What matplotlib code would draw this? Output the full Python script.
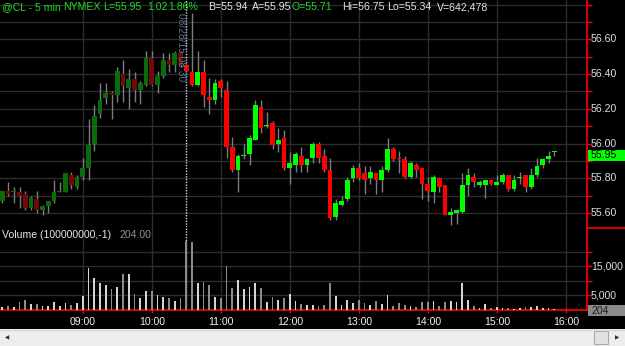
import matplotlib
matplotlib.use('Agg')
import matplotlib.pyplot as plt
from matplotlib.patches import Rectangle
from matplotlib.lines import Line2D
from matplotlib.transforms import blended_transform_factory

# ---------------- data ----------------
opens = [55.67, 55.73, 55.72, 55.72, 55.71, 55.63, 55.68, 55.62, 55.64, 55.67,
         55.72, 55.72, 55.82, 55.75, 55.81, 55.86, 56.00, 56.17, 56.26, 56.29,
         56.28, 56.40, 56.32, 56.37, 56.31, 56.34, 56.49, 56.34, 56.39, 56.48,
         56.45, 56.52, 56.45, 56.41, 56.34, 56.41, 56.27, 56.25, 56.36, 56.31,
         55.98, 55.85, 55.93, 55.94, 56.02, 56.21, 56.10, 56.12, 56.00, 56.03,
         55.86, 55.88, 55.93, 55.88, 55.92, 56.00, 55.93, 55.85, 55.58, 55.65,
         55.68, 55.80, 55.86, 55.83, 55.80, 55.83, 55.79, 55.85, 55.97, 55.92,
         55.91, 55.81, 55.88, 55.86, 55.77, 55.72, 55.80, 55.76, 55.59, 55.60,
         55.61, 55.76, 55.81, 55.76, 55.76, 55.79, 55.76, 55.78, 55.82, 55.74,
         55.80, 55.82, 55.75, 55.82, 55.88, 55.91, 55.95]
highs = [55.73, 55.78, 55.75, 55.75, 55.73, 55.70, 55.73, 55.65, 55.67, 55.79,
         55.78, 55.83, 55.84, 55.82, 55.92, 56.14, 56.22, 56.35, 56.35, 56.30,
         56.44, 56.48, 56.43, 56.41, 56.36, 56.53, 56.53, 56.42, 56.52, 56.52,
         56.53, 56.53, 56.46, 56.75, 56.53, 56.48, 56.38, 56.37, 56.37, 56.36,
         56.04, 55.94, 56.00, 56.05, 56.25, 56.25, 56.18, 56.13, 56.09, 56.08,
         55.95, 55.95, 55.98, 55.92, 56.01, 56.01, 55.97, 55.92, 55.68, 55.70,
         55.81, 55.88, 55.89, 55.87, 55.87, 55.83, 55.87, 56.03, 55.98, 55.96,
         55.93, 55.90, 55.89, 55.86, 55.81, 55.82, 55.81, 55.76, 55.63, 55.62,
         55.83, 55.86, 55.83, 55.79, 55.79, 55.79, 55.82, 55.83, 55.82, 55.82,
         55.84, 55.82, 55.86, 55.92, 55.92, 55.96, 55.96]
lows = [55.66, 55.70, 55.66, 55.63, 55.62, 55.62, 55.60, 55.59, 55.60, 55.66,
        55.72, 55.72, 55.74, 55.74, 55.79, 55.79, 55.96, 56.15, 56.23, 56.14,
        56.24, 56.24, 56.20, 56.24, 56.23, 56.33, 56.33, 56.29, 56.38, 56.41,
        56.41, 56.44, 56.41, 56.33, 56.33, 56.21, 56.17, 56.23, 56.27, 55.92,
        55.84, 55.72, 55.91, 55.88, 56.02, 56.06, 56.09, 55.97, 55.95, 55.85,
        55.77, 55.84, 55.84, 55.84, 55.89, 55.89, 55.84, 55.56, 55.56, 55.64,
        55.67, 55.78, 55.79, 55.71, 55.77, 55.71, 55.72, 55.84, 55.90, 55.83,
        55.80, 55.80, 55.81, 55.68, 55.67, 55.66, 55.72, 55.59, 55.53, 55.54,
        55.60, 55.70, 55.75, 55.75, 55.69, 55.76, 55.76, 55.77, 55.73, 55.73,
        55.77, 55.72, 55.74, 55.81, 55.86, 55.89, 55.93]
closes = [55.73, 55.71, 55.73, 55.70, 55.63, 55.69, 55.62, 55.64, 55.67, 55.72,
          55.72, 55.83, 55.76, 55.81, 55.86, 55.99, 56.16, 56.25, 56.29, 56.28,
          56.42, 56.33, 56.37, 56.31, 56.35, 56.49, 56.34, 56.39, 56.48, 56.45,
          56.52, 56.45, 56.42, 56.34, 56.41, 56.28, 56.25, 56.35, 56.32, 55.98,
          55.85, 55.93, 55.93, 56.03, 56.22, 56.09, 56.11, 55.99, 56.02, 55.86,
          55.89, 55.94, 55.88, 55.91, 56.00, 55.92, 55.85, 55.57, 55.66, 55.67,
          55.79, 55.86, 55.80, 55.79, 55.84, 55.79, 55.85, 55.97, 55.91, 55.91,
          55.81, 55.89, 55.85, 55.77, 55.73, 55.81, 55.75, 55.59, 55.61, 55.62,
          55.76, 55.82, 55.78, 55.78, 55.79, 55.77, 55.78, 55.82, 55.74, 55.79,
          55.81, 55.75, 55.82, 55.87, 55.91, 55.93, 55.95]
volumes = [900, 1400, 1000, 2800, 3400, 2100, 2100, 1400, 1400, 2800,
           1400, 2400, 1800, 2400, 4800, 14600, 11000, 9400, 8600, 7200,
           8000, 12400, 12400, 5500, 4100, 6400, 6400, 5100, 4500, 4100,
           3100, 4100, 23800, 23500, 9400, 9700, 8600, 4500, 4100, 15300,
           7600, 10300, 7100, 7800, 9300, 7600, 2900, 4500, 3300, 4100,
           5500, 3000, 2100, 1800, 1700, 1500, 1600, 9300, 4800, 1700,
           3400, 2400, 3400, 2400, 1700, 3100, 2100, 5100, 1400, 2400,
           1700, 1400, 900, 2800, 2800, 3100, 1400, 2800, 3100, 2800,
           9300, 3400, 1400, 600, 2100, 600, 900, 600, 600, 500,
           600, 900, 900, 1300, 600, 600, 204]
session_start = 32          # index of the 08:30 session-open bar
hour_bars = [14, 26, 38, 50, 62, 74, 86, 98]
hour_labels = ["09:00", "10:00", "11:00", "12:00", "13:00", "14:00", "15:00", "16:00"]
price_labels = [55.60, 55.80, 56.00, 56.20, 56.40, 56.60]
vol_labels = [5000, 15000]
last_price = 55.95
last_volume = 204

# ---------------- figure ----------------
W, H = 625, 346
fig = plt.figure(figsize=(W / 100, H / 100), dpi=100, facecolor='black')
FONT = 'Liberation Sans'
FS = 7.6


def fx(x):
    return x / W


def fy(y):
    return 1 - y / H


ax = fig.add_axes([0, fy(227), 587 / W, 227 / H])
axv = fig.add_axes([0, fy(310), 587 / W, 83 / H])
GRID = '#2c2c2c'
RED = '#ff0000'

for a in (ax, axv):
    a.set_facecolor('black')
    a.set_xlim(-0.4, 101.69)
    for s in ('top', 'left', 'bottom', 'right'):
        a.spines[s].set_visible(False)
    a.set_xticks(hour_bars)
    a.set_xticklabels([])
    a.tick_params(axis='x', length=0)
    a.grid(True, color=GRID, linewidth=1.0)
    a.set_axisbelow(True)

ax.set_ylim(55.521, 56.826)
ax.set_yticks([55.6 + 0.1 * k for k in range(13)])
ax.yaxis.tick_right()
ax.tick_params(axis='y', colors=RED, length=3.5, width=1.0, labelright=False)
ax.spines['right'].set_visible(True)
ax.spines['right'].set_color(RED)
ax.spines['right'].set_linewidth(1.2)

axv.set_ylim(0, 28620)
axv.set_yticks([5000, 10000, 15000, 20000])
axv.yaxis.tick_right()
axv.tick_params(axis='y', colors=RED, length=3.5, width=1.0, labelright=False)
axv.tick_params(axis='x', colors=RED, length=4, width=1.0, direction='inout')
for s in ('right', 'bottom'):
    axv.spines[s].set_visible(True)
    axv.spines[s].set_color(RED)
    axv.spines[s].set_linewidth(1.2)

# session separator
for a in (ax, axv):
    a.axvline(session_start, color='#c4d6ee', linestyle=(0, (1, 1)), linewidth=1.0, zorder=1)

# candles
n = len(opens)
xs = list(range(n))
bottoms, heights, colors = [], [], []
for i in xs:
    o, c = opens[i], closes[i]
    up = c >= o
    if i < session_start:
        col = '#0b6a0b' if up else '#720a0a'
    else:
        col = '#00ff00' if up else '#ff0000'
    bottoms.append(min(o, c))
    heights.append(max(abs(c - o), 0.006))
    colors.append(col)
ax.vlines(xs, lows, highs, color='#7c7c7c', linewidth=1.0, zorder=2)
ax.bar(xs, heights, bottom=bottoms, width=0.8, color=colors, linewidth=0, zorder=3)

vcolors = ['#d4d4d4' if closes[i] >= opens[i] else '#8c8c8c' for i in xs]
axv.bar(xs, volumes, width=0.3, color=vcolors, linewidth=0, zorder=3)

# ---------------- texts ----------------
hdr = [(2, "@CL - 5 min", '#22d822'), (63, "NYMEX", '#22d822'), (103, "L=55.95", '#22d822'),
       (147, "1.02", '#22d822'), (168, "1.86%", '#22d822'), (208, "B=55.94", '#dfe7f2'),
       (252, "A=55.95", '#dfe7f2'), (292, "O=55.71", '#22d822'), (342, "Hi=56.75", '#e4e4e4'),
       (387, "Lo=55.34", '#e4e4e4'), (437, "V=642,478", '#e4e4e4')]
for x, t, c in hdr:
    fig.text(fx(x), fy(7.5), t, color=c, fontsize=FS, family=FONT, ha='left', va='center')

fig.text(fx(181), fy(13), "08/28/15 08:30", color='#5d6f88', fontsize=7.3, family=FONT,
         rotation=270, ha='center', va='top')

tr_p = blended_transform_factory(fig.transFigure, ax.transData)
for p in price_labels:
    ax.text(fx(591), p, f"{p:.2f}", transform=tr_p, color='#d8dee8', fontsize=FS,
            family=FONT, ha='left', va='center', clip_on=False)

# last price box
fig.patches.append(Rectangle((fx(587.5), fy(161)), fx(38), 11 / H, transform=fig.transFigure,
                             facecolor='#00ff00', edgecolor='none'))
fig.text(fx(591), fy(155.5), f"{last_price:.2f}", color='black', fontsize=FS, family=FONT,
         ha='left', va='center')

# separator on axis side
fig.lines.append(Line2D([fx(587), 1], [fy(227.5), fy(227.5)], transform=fig.transFigure,
                        color=RED, linewidth=1.2))

fig.text(fx(2), fy(235), "Volume (100000000,-1)", color='#e8e8e8', fontsize=FS, family=FONT,
         ha='left', va='center')
fig.text(fx(119), fy(235), "204.00", color='#8e8e8e', fontsize=FS, family=FONT,
         ha='left', va='center')

tr_v = blended_transform_factory(fig.transFigure, axv.transData)
for v in vol_labels:
    axv.text(fx(591), v, f"{v:,}", transform=tr_v, color='#d8dee8', fontsize=FS,
             family=FONT, ha='left', va='center', clip_on=False)

fig.patches.append(Rectangle((fx(587.5), fy(316)), fx(38), 11 / H, transform=fig.transFigure,
                             facecolor='#8a8a8a', edgecolor='none'))
fig.text(fx(591), fy(310.5), f"{last_volume}", color='#1c1c1c', fontsize=FS, family=FONT,
         ha='left', va='center')

tr_x = blended_transform_factory(axv.transData, fig.transFigure)
for b, lab in zip(hour_bars, hour_labels):
    axv.text(b, fy(322), lab, transform=tr_x, color='#f0f0f0', fontsize=FS, family=FONT,
             ha='center', va='center', clip_on=False)

# scrollbar
fig.patches.append(Rectangle((0, 0), 1, 17 / H, transform=fig.transFigure,
                             facecolor='#ededed', edgecolor='none'))
fig.lines.append(Line2D([0, 1], [fy(329.5), fy(329.5)], transform=fig.transFigure,
                        color='#d8d8d8', linewidth=1))
fig.patches.append(Rectangle((fx(594), fy(344)), fx(14), 13 / H, transform=fig.transFigure,
                             facecolor='#e2e2e2', edgecolor='#a8a8a8', linewidth=0.8))
fig.text(fx(7), fy(338), "\u25c0", color='#303030', fontsize=4, family='DejaVu Sans',
         ha='center', va='center')
fig.text(fx(617), fy(338), "\u25b6", color='#303030', fontsize=4, family='DejaVu Sans',
         ha='center', va='center')

fig.savefig('out.png', dpi=100, facecolor='black')
